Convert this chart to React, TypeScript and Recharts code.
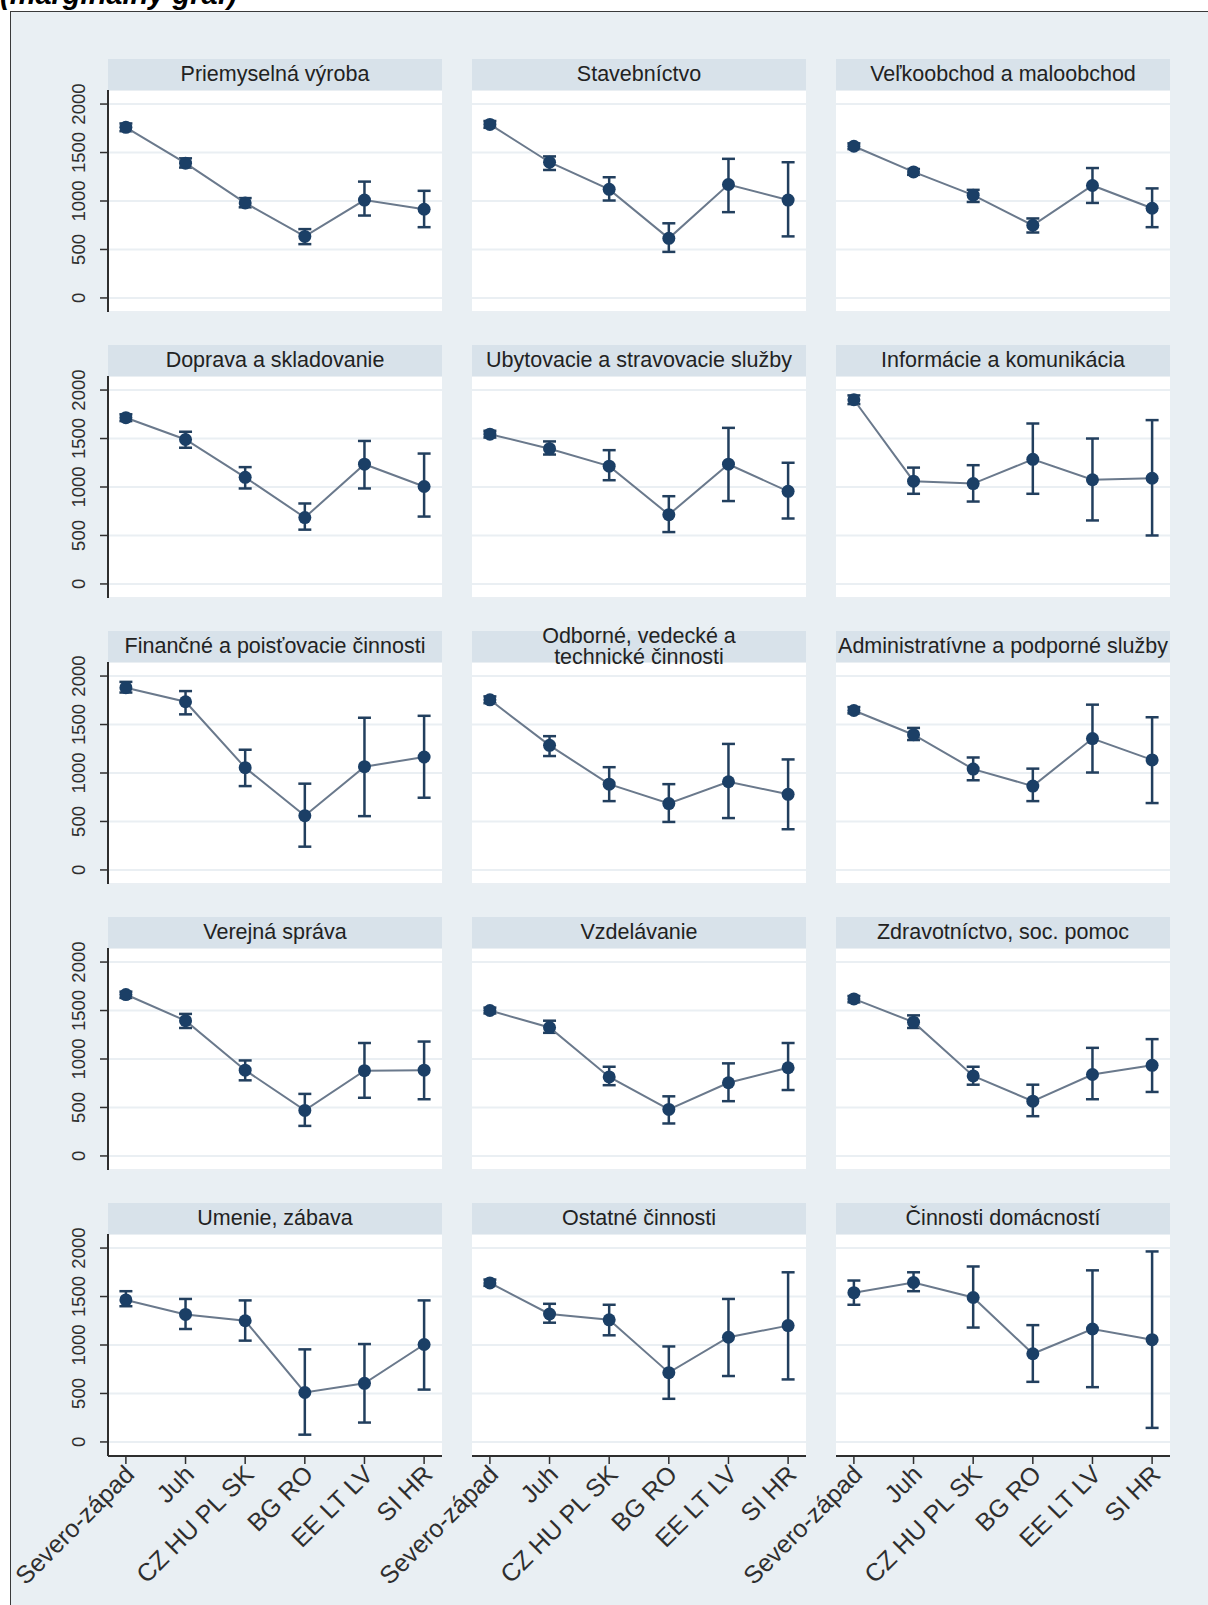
import React from 'react';
import { ComposedChart, Line, ErrorBar, XAxis, YAxis, CartesianGrid } from 'recharts';

// regions on the x axis, in plotting order
const REGIONS = ['Severo-západ', 'Juh', 'CZ HU PL SK', 'BG RO', 'EE LT LV', 'SI HR'];

// one panel per sector, filled row by row
const SECTORS = [
  'Priemyselná výroba',
  'Stavebníctvo',
  'Veľkoobchod a maloobchod',
  'Doprava a skladovanie',
  'Ubytovacie a stravovacie služby',
  'Informácie a komunikácia',
  'Finančné a poisťovacie činnosti',
  'Odborné, vedecké a\ntechnické činnosti',
  'Administratívne a podporné služby',
  'Verejná správa',
  'Vzdelávanie',
  'Zdravotníctvo, soc. pomoc',
  'Umenie, zábava',
  'Ostatné činnosti',
  'Činnosti domácností',
];

// predicted margins per sector (same order as REGIONS)
const MEANS = [
  [1760, 1390, 980, 635, 1010, 915],
  [1790, 1400, 1120, 615, 1170, 1010],
  [1565, 1300, 1060, 750, 1160, 925],
  [1715, 1490, 1100, 685, 1235, 1005],
  [1545, 1395, 1215, 715, 1235, 955],
  [1900, 1060, 1035, 1285, 1075, 1090],
  [1880, 1735, 1055, 560, 1065, 1165],
  [1755, 1285, 885, 685, 910, 780],
  [1645, 1395, 1040, 865, 1355, 1135],
  [1665, 1395, 885, 470, 880, 885],
  [1500, 1325, 815, 480, 755, 910],
  [1620, 1380, 825, 565, 840, 935],
  [1465, 1315, 1250, 510, 605, 1005],
  [1640, 1320, 1260, 715, 1080, 1200],
  [1540, 1645, 1490, 910, 1165, 1055],
];

// lower bound of the 95% CI
const LOWER = [
  [1720, 1345, 935, 555, 850, 730],
  [1755, 1320, 1005, 475, 885, 635],
  [1535, 1270, 990, 675, 980, 730],
  [1680, 1405, 985, 560, 985, 695],
  [1510, 1335, 1070, 535, 855, 675],
  [1855, 930, 850, 930, 655, 500],
  [1830, 1605, 865, 240, 555, 745],
  [1720, 1175, 710, 495, 535, 420],
  [1615, 1340, 925, 710, 1005, 690],
  [1630, 1320, 780, 310, 600, 585],
  [1470, 1270, 730, 335, 565, 680],
  [1585, 1320, 735, 410, 585, 660],
  [1400, 1165, 1045, 75, 200, 540],
  [1610, 1230, 1100, 445, 680, 645],
  [1415, 1555, 1180, 620, 565, 145],
];

// upper bound of the 95% CI
const UPPER = [
  [1800, 1440, 1030, 710, 1200, 1105],
  [1825, 1460, 1245, 770, 1435, 1400],
  [1595, 1330, 1115, 820, 1340, 1130],
  [1750, 1570, 1205, 830, 1475, 1345],
  [1580, 1470, 1380, 905, 1610, 1250],
  [1945, 1200, 1225, 1655, 1500, 1690],
  [1940, 1845, 1240, 890, 1570, 1590],
  [1790, 1380, 1060, 885, 1300, 1140],
  [1680, 1465, 1160, 1045, 1705, 1575],
  [1695, 1465, 985, 640, 1165, 1180],
  [1530, 1395, 920, 615, 955, 1165],
  [1650, 1450, 920, 735, 1115, 1205],
  [1555, 1475, 1460, 955, 1010, 1460],
  [1675, 1425, 1415, 985, 1475, 1750],
  [1665, 1750, 1810, 1205, 1770, 1965],
];

const Y_TICKS = [0, 500, 1000, 1500, 2000];
const X_TICKS = [0, 1, 2, 3, 4, 5];

const FONT = '"Liberation Sans", Arial, Helvetica, sans-serif';
const BG = '#e9eff3';
const HEAD_BG = '#d8e2ea';
const GRID = '#eaeff3';
const NAVY = '#1b3f66';
const BAR = '#223f5e';
const CONNECT = '#6a798c';
const AXIS = '#2e2e2e';

const COL_LEFT = [108, 472, 836];
const ROW_TOP = [90, 376, 662, 948, 1234];
const PLOT_W = 334;
const PLOT_H = 222;
const HEAD_H = 31;
const PAD_L = 100;
const PAD_R = 10;
const PAD_T = 30;

function YTick(props: any) {
  const { x, y, payload } = props;
  const tx = x - 13;
  return (
    <text x={tx} y={y} transform={`rotate(-90, ${tx}, ${y})`} textAnchor="middle"
      fontSize={18.5} fill={AXIS} fontFamily={FONT}>
      {payload.value}
    </text>
  );
}

function XTick(props: any) {
  const { x, y, payload } = props;
  const ax = x + 10;
  const ay = y + 10;
  return (
    <text x={ax} y={ay} transform={`rotate(-45, ${ax}, ${ay})`} textAnchor="end"
      fontSize={25} fill={AXIS} fontFamily={FONT}>
      {REGIONS[payload.value]}
    </text>
  );
}

function Panel({ index }: { index: number }) {
  const row = Math.floor(index / 3);
  const col = index % 3;
  const showY = col === 0;
  const showX = row === 4;
  const data = REGIONS.map((_, i) => ({
    x: i,
    y: MEANS[index][i],
    err: [MEANS[index][i] - LOWER[index][i], UPPER[index][i] - MEANS[index][i]],
  }));
  const xHeight = 170;
  const bottom = showX ? 0 : 6;

  return (
    <>
      <div style={{
        position: 'absolute', left: COL_LEFT[col], top: ROW_TOP[row] - HEAD_H,
        width: PLOT_W, height: HEAD_H, background: HEAD_BG,
        display: 'flex', alignItems: 'center', justifyContent: 'center',
        fontFamily: FONT, fontSize: 21.5, lineHeight: '21px', color: '#222',
        whiteSpace: 'pre-line', textAlign: 'center', zIndex: 2,
      }}>
        {SECTORS[index]}
      </div>
      <div style={{ position: 'absolute', left: COL_LEFT[col] - PAD_L, top: ROW_TOP[row] - PAD_T, zIndex: 1 }}>
        <ComposedChart
          width={PAD_L + PLOT_W + PAD_R}
          height={PAD_T + PLOT_H + (showX ? xHeight : bottom)}
          data={data}
          margin={{ top: PAD_T, right: PAD_R, bottom, left: showY ? 0 : PAD_L }}
        >
          <CartesianGrid vertical={false} fill="#fff" stroke={GRID} strokeWidth={2} />
          <XAxis
            type="number" dataKey="x" domain={[-0.3, 5.3]} ticks={X_TICKS}
            hide={!showX} height={xHeight} interval={0}
            axisLine={{ stroke: AXIS, strokeWidth: 2 }}
            tickLine={{ stroke: AXIS, strokeWidth: 1.5 }} tickSize={8}
            tick={<XTick />}
          />
          <YAxis
            type="number" domain={[-145, 2145]} ticks={Y_TICKS} allowDataOverflow
            hide={!showY} width={PAD_L} interval={0}
            axisLine={{ stroke: AXIS, strokeWidth: 2 }}
            tickLine={{ stroke: AXIS, strokeWidth: 1.5 }} tickSize={8}
            tick={<YTick />}
          />
          <Line
            dataKey="y" stroke={CONNECT} strokeWidth={2}
            dot={{ r: 6.5, fill: NAVY, stroke: NAVY, strokeWidth: 0 }}
            activeDot={false} isAnimationActive={false}
          >
            <ErrorBar dataKey="err" direction="y" width={6.5} stroke={BAR} strokeWidth={2.5} />
          </Line>
        </ComposedChart>
      </div>
    </>
  );
}

export default function App() {
  return (
    <div style={{ position: 'absolute', left: 0, top: 0, width: 1208, height: 1605, background: '#fff', overflow: 'hidden' }}>
      <div style={{ position: 'absolute', left: 10, top: 11, right: -20, bottom: -20, background: BG, borderLeft: '1.5px solid #3a3a3a', borderTop: '1.5px solid #3a3a3a' }} />
      <svg width={1208} height={20} style={{ position: 'absolute', left: 0, top: 0, zIndex: 3 }}>
        <text x={0} y={4} fontFamily={FONT} fontWeight="bold" fontStyle="italic" fontSize={29} fill="#000">
          (marginálny graf)
        </text>
      </svg>
      {SECTORS.map((_, i) => <Panel key={i} index={i} />)}
    </div>
  );
}
